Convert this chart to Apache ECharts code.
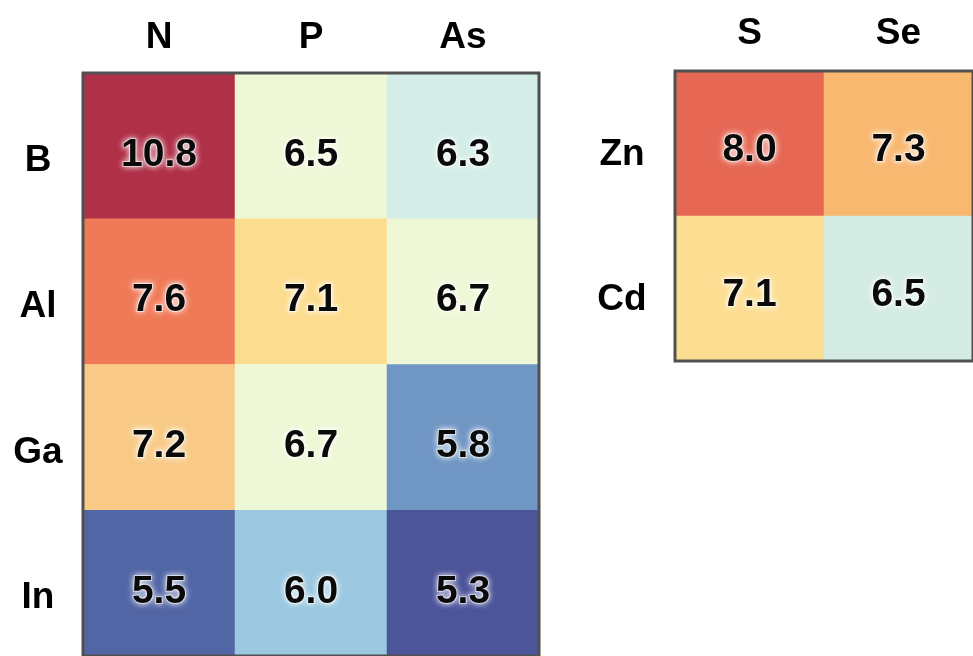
<!DOCTYPE html>
<html>
<head>
<meta charset="utf-8">
<script src="https://cdn.jsdelivr.net/npm/echarts@6/dist/echarts.min.js"></script>
<style>
  html, body { margin: 0; padding: 0; background: #ffffff; }
  #chart { width: 973px; height: 656px; }
</style>
</head>
<body>
<div id="chart"></div>
<script>
// ---- data ----
const leftCols = ['N', 'P', 'As'];
const leftRows = ['B', 'Al', 'Ga', 'In'];
const leftValues = [
  [10.8, 6.5, 6.3],
  [7.6, 7.1, 6.7],
  [7.2, 6.7, 5.8],
  [5.5, 6.0, 5.3]
];
const rightCols = ['S', 'Se'];
const rightRows = ['Zn', 'Cd'];
const rightValues = [
  [8.0, 7.3],
  [7.1, 6.5]
];

function toTriples(values) {
  const out = [];
  values.forEach((row, r) => row.forEach((v, c) => out.push([c, r, v])));
  return out;
}

const FONT = '"Liberation Sans", Arial, Helvetica, sans-serif';

const axisLabelX = (margin) => ({
  fontSize: 37, fontWeight: 'bold', color: '#000', fontFamily: FONT,
  margin: margin, verticalAlign: 'middle'
});
const axisLabelY = (margin, lh) => ({
  fontSize: 37, fontWeight: 'bold', color: '#000', fontFamily: FONT,
  margin: margin, align: 'center', verticalAlign: 'top', lineHeight: lh
});

const valueLabel = (dy) => ({
  show: true,
  formatter: (p) => p.value[2].toFixed(1),
  fontSize: 39,
  fontWeight: 'bold',
  fontFamily: FONT,
  color: '#0a0a0a',
  textBorderColor: 'rgba(255,255,255,0.55)',
  textBorderWidth: 2,
  textShadowColor: 'rgba(255,255,255,1)',
  textShadowBlur: 6,
  offset: [0, dy]
});

const chart = echarts.init(document.getElementById('chart'), null, { renderer: 'canvas' });

chart.setOption({
  backgroundColor: '#ffffff',
  animation: false,
  grid: [
    { left: 83, top: 73, width: 456, height: 584, show: true, z: 10,
      borderColor: '#505050', borderWidth: 3, backgroundColor: 'transparent' },
    { left: 675, top: 71, width: 306, height: 290, show: true, z: 10,
      borderColor: '#505050', borderWidth: 3, backgroundColor: 'transparent' }
  ],
  xAxis: [
    { type: 'category', gridIndex: 0, data: leftCols, position: 'top',
      axisLine: { show: false }, axisTick: { show: false }, splitLine: { show: false },
      axisLabel: axisLabelX(35) },
    { type: 'category', gridIndex: 1, data: rightCols, position: 'top',
      axisLine: { show: false }, axisTick: { show: false }, splitLine: { show: false },
      axisLabel: axisLabelX(37) }
  ],
  yAxis: [
    { type: 'category', gridIndex: 0, data: leftRows, inverse: true,
      axisLine: { show: false }, axisTick: { show: false }, splitLine: { show: false },
      axisLabel: axisLabelY(45, 30) },
    { type: 'category', gridIndex: 1, data: rightRows, inverse: true,
      axisLine: { show: false }, axisTick: { show: false }, splitLine: { show: false },
      axisLabel: axisLabelY(53, 22) }
  ],
  visualMap: [
    {
      type: 'piecewise', show: false, seriesIndex: 0, dimension: 2,
      pieces: [
        { gte: 10, lte: 12, color: '#B03048' },
        { gte: 7.5, lt: 10, color: '#F07A58' },
        { gte: 7.15, lt: 7.5, color: '#F8CA86' },
        { gte: 6.9, lt: 7.15, color: '#FCDC8E' },
        { gte: 6.4, lt: 6.9, color: '#EEF8D6' },
        { gte: 6.15, lt: 6.4, color: '#D4EDE8' },
        { gte: 5.9, lt: 6.15, color: '#9BC8E0' },
        { gte: 5.65, lt: 5.9, color: '#7096C4' },
        { gte: 5.4, lt: 5.65, color: '#5266A6' },
        { gte: 5.0, lt: 5.4, color: '#4C549A' }
      ]
    },
    {
      type: 'piecewise', show: false, seriesIndex: 1, dimension: 2,
      pieces: [
        { gte: 7.8, lte: 9, color: '#E66854' },
        { gte: 7.2, lt: 7.8, color: '#F8B870' },
        { gte: 6.9, lt: 7.2, color: '#FCDE92' },
        { gte: 6.0, lt: 6.9, color: '#D4ECE4' }
      ]
    }
  ],
  series: [
    { type: 'heatmap', xAxisIndex: 0, yAxisIndex: 0, data: toTriples(leftValues),
      itemStyle: { borderWidth: 0 }, label: valueLabel(9),
      emphasis: { disabled: true } },
    { type: 'heatmap', xAxisIndex: 1, yAxisIndex: 1, data: toTriples(rightValues),
      itemStyle: { borderWidth: 0 }, label: valueLabel(7),
      emphasis: { disabled: true } }
  ]
});
</script>
</body>
</html>
